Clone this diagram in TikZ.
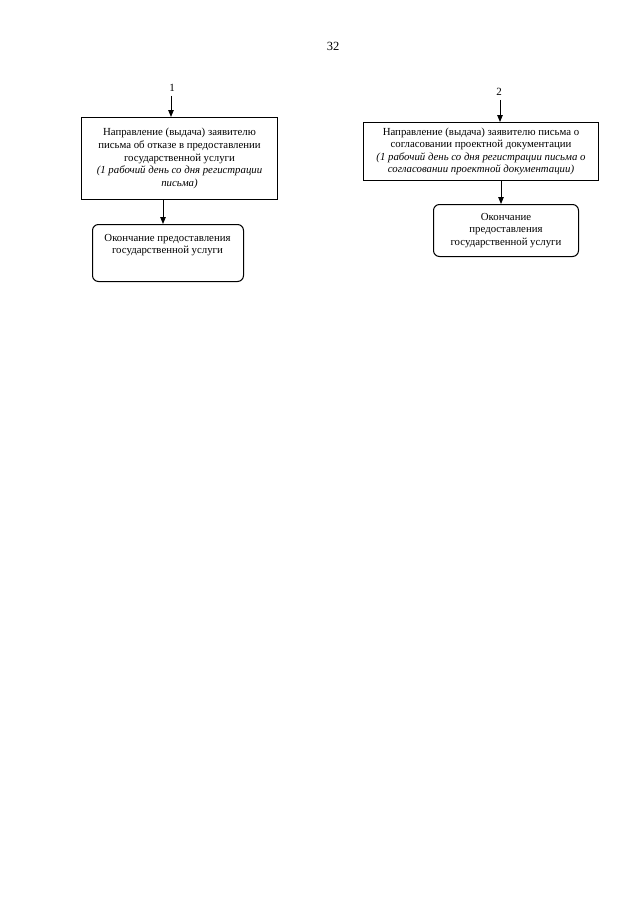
\documentclass[tikz,border=0pt]{standalone}
\usepackage{fontspec}
\setmainfont{Liberation Serif}
\usetikzlibrary{arrows.meta}
\begin{document}
\begin{tikzpicture}[x=1pt,y=-1pt,
  sqbox/.style={draw, line width=1pt, inner sep=0pt, anchor=north west},
  rbox/.style={draw, line width=1pt, inner sep=0pt, anchor=north west, rounded corners=6pt},
  txt/.style={align=center, font=\fontsize{10.8}{12.6}\selectfont, inner sep=0pt},
  lbl/.style={font=\fontsize{11}{13}\selectfont, inner sep=1pt},
  arr/.style={-{Triangle[length=7pt,width=5.5pt]}, line width=0.9pt}]
\useasboundingbox[fill=white] (0,0) rectangle (640,905);
\node[lbl, font=\fontsize{12.5}{14}\selectfont] (pg) at (333,46) {32};
% left branch
\node[lbl] (n1) at (172,88) {1};
\node[sqbox, minimum width=196pt, minimum height=82pt, txt] (b1) at (81,117)
  {Направление (выдача) заявителю\\письма об отказе в предоставлении\\государственной услуги\\\textit{(1 рабочий день со дня регистрации}\\\textit{письма)}};
\node[rbox, minimum width=151pt, minimum height=57pt] (b2) at (92,224) {};
\node[txt] (b2t) at (167.5,245) {Окончание предоставления\\государственной услуги};
\coordinate (xa) at (171,0);
\coordinate (xb) at (163,0);
\draw[arr] (n1.south -| xa) ++(0,3) -- (b1.north -| xa);
\draw[arr] (b1.south -| xb) -- (b2.north -| xb);
% right branch
\node[lbl] (n2) at (499,92) {2};
\node[sqbox, minimum width=235pt, minimum height=58pt, txt] (b3) at (363,122)
  {Направление (выдача) заявителю письма о\\согласовании проектной документации\\\textit{(1 рабочий день со дня регистрации письма о}\\\textit{согласовании проектной документации)}};
\node[rbox, minimum width=145pt, minimum height=52pt, txt] (b4) at (433,204)
  {Окончание\\предоставления\\государственной услуги};
\coordinate (xc) at (500,0);
\coordinate (xd) at (501,0);
\draw[arr] (n2.south -| xc) ++(0,3) -- (b3.north -| xc);
\draw[arr] (b3.south -| xd) -- (b4.north -| xd);
\end{tikzpicture}
\end{document}
